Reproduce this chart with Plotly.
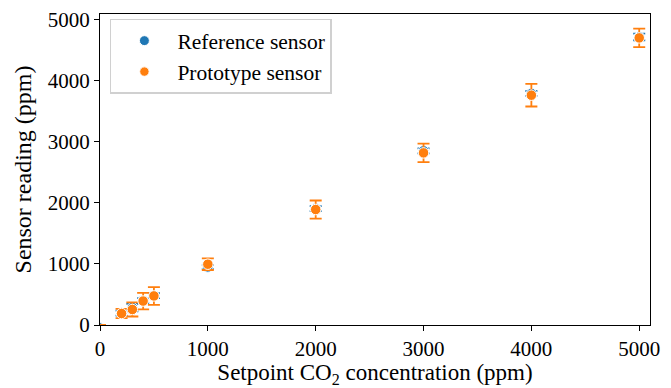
import plotly.graph_objects as go

setpoints = [0, 200, 300, 400, 500, 1000, 2000, 3000, 4000, 5000]
reference_mean = [0, 195, 285, 400, 480, 950, 1905, 2850, 3790, 4715]
reference_err = [0, 40, 60, 40, 40, 30, 40, 40, 40, 55]
prototype_mean = [0, 188, 254, 392, 476, 995, 1890, 2817, 3761, 4699]
prototype_err = [0, 75, 115, 135, 145, 95, 148, 150, 185, 152]

tick_vals = [0, 1000, 2000, 3000, 4000, 5000]
tick_text = ["0", "1000", "2000", "3000", "4000", "5000"]

BLUE = "#1f77b4"
ORANGE = "#ff7f0e"
FONT = "Liberation Serif"

# markers sitting on the axes corner are mostly clipped in the reference
def marker_sizes(xs, ys, full=10.5, clipped=5):
    return [clipped if (x == 0 and y == 0) else full for x, y in zip(xs, ys)]

fig = go.Figure()
fig.add_trace(go.Scatter(
    x=setpoints, y=reference_mean, mode="markers", name="Reference sensor",
    marker=dict(color=BLUE, opacity=1, size=marker_sizes(setpoints, reference_mean)),
    error_y=dict(type="data", array=reference_err, color=BLUE, thickness=1.8, width=6),
))
fig.add_trace(go.Scatter(
    x=setpoints, y=prototype_mean, mode="markers", name="Prototype sensor",
    marker=dict(color=ORANGE, opacity=1, size=marker_sizes(setpoints, prototype_mean, clipped=0)),
    error_y=dict(type="data", array=prototype_err, color=ORANGE, thickness=1.8, width=6),
))

axis_common = dict(
    showgrid=False, zeroline=False, showline=True, linecolor="black", linewidth=1.2,
    mirror=True, ticks="outside", ticklen=5, tickwidth=1.2, tickcolor="black",
    tickvals=tick_vals, ticktext=tick_text,
    tickfont=dict(family=FONT, size=21, color="black"),
)
fig.update_xaxes(range=[0, 5100], automargin=False,
                 title=dict(text="Setpoint CO<sub>2</sub> concentration (ppm)",
                            font=dict(family=FONT, size=23, color="black")),
                 **axis_common)
fig.update_yaxes(range=[0, 5090], automargin="left",
                 title=dict(text="Sensor reading (ppm)",
                            font=dict(family=FONT, size=24, color="black"), standoff=9),
                 **axis_common)

fig.update_layout(
    width=671, height=388,
    margin=dict(l=100, r=21, t=14, b=63),
    plot_bgcolor="white", paper_bgcolor="white",
    font=dict(family=FONT, size=21, color="black"),
    legend=dict(x=0.018, y=0.985, xanchor="left", yanchor="top",
                bgcolor="rgba(255,255,255,0.8)", bordercolor="#d0d0d0", borderwidth=1.5,
                font=dict(family=FONT, size=21.5, color="black"),
                itemwidth=56, tracegroupgap=0),
    showlegend=True,
)

fig.write_html("out.html")
